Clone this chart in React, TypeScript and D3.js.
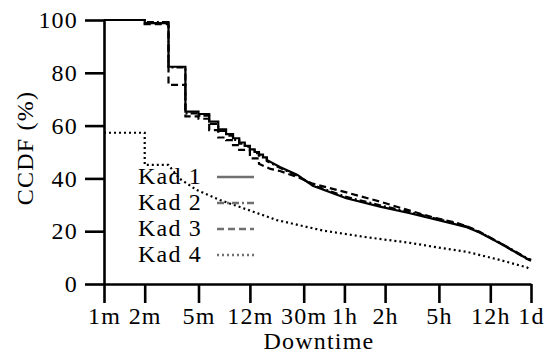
import * as d3 from "d3";
import React, { useEffect, useRef } from "react";

const seriesNames = ["Kad 1", "Kad 2", "Kad 3", "Kad 4"];

// [downtime in minutes, CCDF %]
const kad1 = [
  [1, 100], [2, 98.8], [3, 82.3], [4, 65.3], [5, 64.4], [6, 61.5], [7, 58.6],
  [8, 56.8], [9, 55.2], [10, 53.6], [11, 52.3], [12, 51], [13, 50], [14, 49],
  [15, 48], [16, 47], [20, 44.3], [27, 41.3], [35, 37.2], [62, 32.5],
  [110, 29.3], [183, 26.8], [273, 24.6], [400, 22.6], [482, 21.5],
  [600, 19.5], [849, 15.4], [1337, 9.7], [1440, 9],
];
const kad2 = [
  [1, 100], [2, 99.2], [3, 82], [4, 64.6], [5, 63.8], [6, 60.6], [7, 58],
  [8, 56.2], [9, 54.6], [10, 53.2], [11, 52], [12, 50.6], [13, 49.6],
  [14, 48.6], [15, 47.6], [16, 46.6], [20, 44], [27, 41], [35, 37.5],
  [62, 33], [110, 29.8], [183, 27.2], [273, 25], [400, 23], [482, 21.8],
  [600, 19.6], [849, 15.6], [1337, 9.9], [1440, 9.2],
];
const kad3 = [
  [1, 100], [2, 98.4], [3, 75.4], [4, 63.5], [5, 62.6], [6, 58.3], [7, 55.5],
  [8, 54.5], [9, 52.6], [10, 50.8], [12, 47.6], [14, 45.5], [17, 43.6],
  [20, 42.8], [27, 40.5], [35, 38], [62, 34.7], [110, 31.2], [183, 27.8],
  [273, 25.2], [400, 23.2], [482, 21.9], [600, 19.8], [849, 15.5],
  [1337, 9.6], [1440, 8.8],
];
const kad4 = [
  [1, 57.3], [2, 45.1], [3, 45.1], [3.6, 40], [4.85, 35.6], [7.2, 31.8],
  [12.7, 27.4], [19, 24.2], [42, 20.2], [88, 17.7], [183, 15.6], [273, 14.1],
  [482, 12.2], [849, 9.1], [1337, 6.3], [1440, 5.5],
];
// index of the last point of the staircase part of each curve
const stepEnds = [15, 15, 11, 2];

const xTickMinutes = [1, 2, 5, 12, 30, 60, 120, 300, 720, 1440];
const xTickLabels = ["1m", "2m", "5m", "12m", "30m", "1h", "2h", "5h", "12h", "1d"];
const yTicks = [0, 20, 40, 60, 80, 100];

const dashes = ["none", "7,3,2,3", "7,4", "2,3"];
const FONT = "'Liberation Serif', 'Times New Roman', serif";

export default function App() {
  const svgRef = useRef(null);
  const width = 546;
  const height = 356;

  useEffect(() => {
    const svgEl = d3.select(svgRef.current);
    svgEl.selectAll("*").remove();

    const x = d3.scaleLog().domain([1, 1440]).range([104, 531]);
    const y = d3.scaleLinear().domain([0, 100]).range([284, 20]);

    const styleAxis = (g) => {
      g.attr("font-family", FONT).attr("font-size", 24);
      g.selectAll("text").attr("fill", "#000").style("letter-spacing", "1.2px");
      g.selectAll("line, path").attr("stroke", "#000").attr("stroke-width", 2.6);
    };

    /* X axis */
    svgEl
      .append("g")
      .attr("transform", "translate(0,284)")
      .call(
        d3
          .axisBottom(x)
          .tickValues(xTickMinutes)
          .tickFormat((d, i) => xTickLabels[i])
          .tickSize(19)
          .tickSizeOuter(0)
          .tickPadding(4)
      )
      .call(styleAxis);

    /* Y axis */
    svgEl
      .append("g")
      .attr("transform", "translate(104,0)")
      .call(d3.axisLeft(y).tickValues(yTicks).tickSize(19).tickSizeOuter(0).tickPadding(7))
      .call(styleAxis);

    // axis titles
    svgEl
      .append("text")
      .attr("x", 319)
      .attr("y", 349)
      .attr("text-anchor", "middle")
      .attr("font-family", FONT)
      .attr("font-size", 24)
      .style("letter-spacing", "1.2px")
      .text("Downtime");

    svgEl
      .append("text")
      .attr("transform", "translate(33,148) rotate(-90)")
      .attr("text-anchor", "middle")
      .attr("font-family", FONT)
      .attr("font-size", 24)
      .style("letter-spacing", "1.2px")
      .text("CCDF (%)");

    const stepLine = d3
      .line()
      .x((d) => x(d[0]))
      .y((d) => y(d[1]))
      .curve(d3.curveStepAfter);
    const smoothLine = d3
      .line()
      .x((d) => x(d[0]))
      .y((d) => y(d[1]));

    const allSeries = [kad1, kad2, kad3, kad4];
    allSeries.forEach((data, i) => {
      const head = data.slice(0, stepEnds[i] + 1);
      const tail = data.slice(stepEnds[i]);
      const d = stepLine(head) + smoothLine(tail).replace(/^M/, "L");
      svgEl
        .append("path")
        .attr("d", d)
        .attr("fill", "none")
        .attr("stroke", "#000")
        .attr("stroke-width", 2.2)
        .attr("stroke-dasharray", dashes[i]);
    });

    // legend
    const legend = svgEl.append("g");
    seriesNames.forEach((name, i) => {
      const base = 184 + i * 26;
      legend
        .append("text")
        .attr("x", 138)
        .attr("y", base)
        .attr("font-family", FONT)
        .attr("font-size", 24)
        .style("letter-spacing", "1.2px")
        .text(name);
      legend
        .append("line")
        .attr("x1", 217)
        .attr("x2", 254)
        .attr("y1", base - 7)
        .attr("y2", base - 7)
        .attr("stroke", "#707070")
        .attr("stroke-width", 2.4)
        .attr("stroke-dasharray", dashes[i]);
    });
  });

  return (
    <svg
      width={width}
      height={height}
      ref={svgRef}
      style={{ position: "absolute", left: 0, top: 0, background: "#fff" }}
    ></svg>
  );
}
